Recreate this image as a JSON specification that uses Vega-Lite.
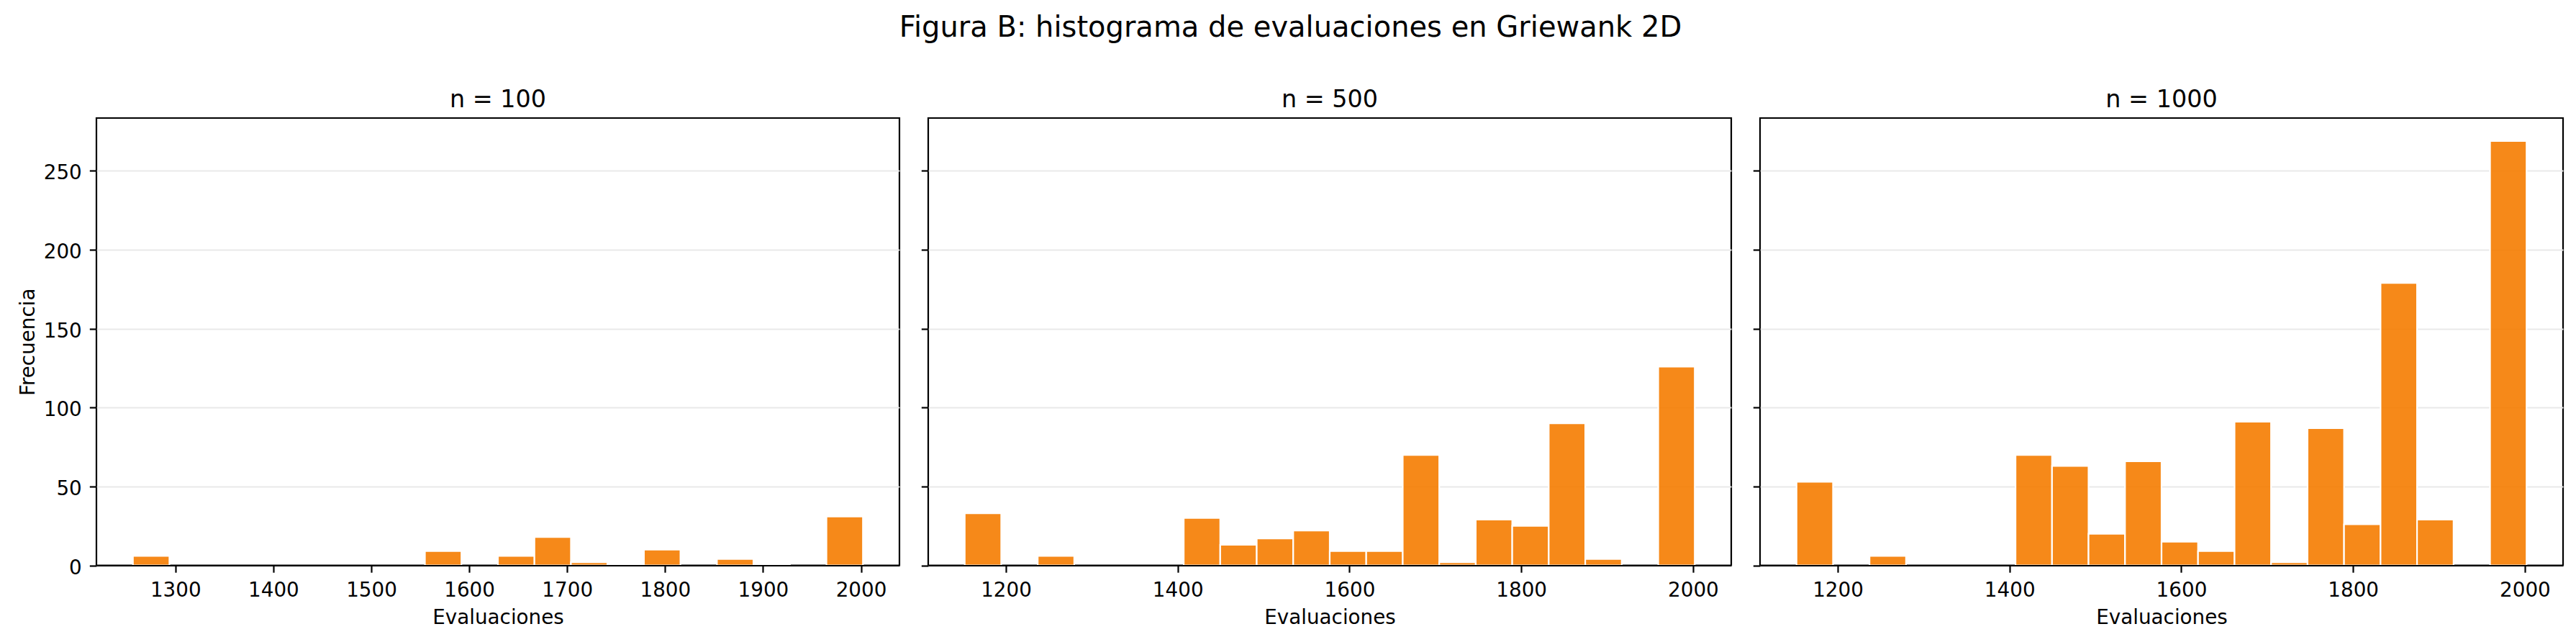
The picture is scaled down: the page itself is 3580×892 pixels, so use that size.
{
  "$schema": "https://vega.github.io/schema/vega-lite/v6.json",
  "background": "white",
  "padding": {"left": 23, "top": 19, "right": 19, "bottom": 20},
  "bounds": "flush",
  "spacing": 40,
  "title": {
    "text": "Figura B: histograma de evaluaciones en Griewank 2D",
    "font": "DejaVu Sans", "fontSize": 40, "fontWeight": "normal", "color": "black",
    "anchor": "middle", "offset": 62
  },
  "config": {
    "font": "DejaVu Sans",
    "view": {"stroke": "black", "strokeWidth": 2.2},
    "axis": {
      "labelFont": "DejaVu Sans", "titleFont": "DejaVu Sans",
      "labelFontSize": 27.8, "titleFontSize": 27.8,
      "labelColor": "black", "titleColor": "black", "titleFontWeight": "normal",
      "tickColor": "black", "tickWidth": 2.2, "tickSize": 9.7,
      "domainColor": "black", "domainWidth": 2.2,
      "gridColor": "#e9e9e9", "gridWidth": 2.2,
      "labelFlush": false, "labelOverlap": false, "format": "d"
    }
  },
  "datasets": {
    "p100": [
      {"bin_start": 1256.6, "bin_end": 1293.87, "count": 6},
      {"bin_start": 1554.76, "bin_end": 1592.03, "count": 9},
      {"bin_start": 1629.3, "bin_end": 1666.57, "count": 6},
      {"bin_start": 1666.57, "bin_end": 1703.84, "count": 18},
      {"bin_start": 1703.84, "bin_end": 1741.11, "count": 2},
      {"bin_start": 1741.11, "bin_end": 1778.38, "count": 1},
      {"bin_start": 1778.38, "bin_end": 1815.65, "count": 10},
      {"bin_start": 1852.92, "bin_end": 1890.19, "count": 4},
      {"bin_start": 1890.19, "bin_end": 1927.46, "count": 1},
      {"bin_start": 1964.73, "bin_end": 2002.0, "count": 31}
    ],
    "p500": [
      {"bin_start": 1152, "bin_end": 1194.5, "count": 33},
      {"bin_start": 1237, "bin_end": 1279.5, "count": 6},
      {"bin_start": 1407, "bin_end": 1449.5, "count": 30},
      {"bin_start": 1449.5, "bin_end": 1492, "count": 13},
      {"bin_start": 1492, "bin_end": 1534.5, "count": 17},
      {"bin_start": 1534.5, "bin_end": 1577, "count": 22},
      {"bin_start": 1577, "bin_end": 1619.5, "count": 9},
      {"bin_start": 1619.5, "bin_end": 1662, "count": 9},
      {"bin_start": 1662, "bin_end": 1704.5, "count": 70},
      {"bin_start": 1704.5, "bin_end": 1747, "count": 2},
      {"bin_start": 1747, "bin_end": 1789.5, "count": 29},
      {"bin_start": 1789.5, "bin_end": 1832, "count": 25},
      {"bin_start": 1832, "bin_end": 1874.5, "count": 90},
      {"bin_start": 1874.5, "bin_end": 1917, "count": 4},
      {"bin_start": 1959.5, "bin_end": 2002, "count": 126}
    ],
    "p1000": [
      {"bin_start": 1152, "bin_end": 1194.5, "count": 53},
      {"bin_start": 1237, "bin_end": 1279.5, "count": 6},
      {"bin_start": 1407, "bin_end": 1449.5, "count": 70},
      {"bin_start": 1449.5, "bin_end": 1492, "count": 63},
      {"bin_start": 1492, "bin_end": 1534.5, "count": 20},
      {"bin_start": 1534.5, "bin_end": 1577, "count": 66},
      {"bin_start": 1577, "bin_end": 1619.5, "count": 15},
      {"bin_start": 1619.5, "bin_end": 1662, "count": 9},
      {"bin_start": 1662, "bin_end": 1704.5, "count": 91},
      {"bin_start": 1704.5, "bin_end": 1747, "count": 2},
      {"bin_start": 1747, "bin_end": 1789.5, "count": 87},
      {"bin_start": 1789.5, "bin_end": 1832, "count": 26},
      {"bin_start": 1832, "bin_end": 1874.5, "count": 179},
      {"bin_start": 1874.5, "bin_end": 1917, "count": 29},
      {"bin_start": 1959.5, "bin_end": 2002, "count": 269}
    ]
  },
  "hconcat": [
    {
      "width": 1116, "height": 621.5,
      "data": {"name": "p100"},
      "title": {"text": "n = 100", "font": "DejaVu Sans", "fontSize": 33.4, "fontWeight": "normal", "color": "black", "anchor": "middle", "frame": "group", "offset": 7.5},
      "mark": {"type": "bar", "fill": "#F57C00", "fillOpacity": 0.9, "stroke": "white", "strokeWidth": 2.2},
      "encoding": {
        "x": {"field": "bin_start", "type": "quantitative",
              "scale": {"domain": [1219.33, 2039.27], "nice": false, "zero": false},
              "axis": {"title": "Evaluaciones", "values": [1300, 1400, 1500, 1600, 1700, 1800, 1900, 2000], "grid": false, "domain": true, "zindex": 1, "labelBaseline": "alphabetic", "labelPadding": 32.9, "titleBaseline": "alphabetic", "titlePadding": 33}},
        "x2": {"field": "bin_end"},
        "y": {"field": "count", "type": "quantitative",
              "scale": {"domain": [0, 283.5], "nice": false},
              "axis": {"title": "Frecuencia", "values": [0, 50, 100, 150, 200, 250], "grid": true, "domain": false, "labelBaseline": "alphabetic", "labelOffset": 11.5, "labelPadding": 11, "titleX": -87, "titleBaseline": "alphabetic"}},
        "y2": {"datum": 0}
      }
    },
    {
      "width": 1116, "height": 621.5,
      "data": {"name": "p500"},
      "title": {"text": "n = 500", "font": "DejaVu Sans", "fontSize": 33.4, "fontWeight": "normal", "color": "black", "anchor": "middle", "frame": "group", "offset": 7.5},
      "mark": {"type": "bar", "fill": "#F57C00", "fillOpacity": 0.9, "stroke": "white", "strokeWidth": 2.2},
      "encoding": {
        "x": {"field": "bin_start", "type": "quantitative",
              "scale": {"domain": [1109.5, 2044.5], "nice": false, "zero": false},
              "axis": {"title": "Evaluaciones", "values": [1200, 1400, 1600, 1800, 2000], "grid": false, "domain": true, "zindex": 1, "labelBaseline": "alphabetic", "labelPadding": 32.9, "titleBaseline": "alphabetic", "titlePadding": 33}},
        "x2": {"field": "bin_end"},
        "y": {"field": "count", "type": "quantitative",
              "scale": {"domain": [0, 283.5], "nice": false},
              "axis": {"title": null, "values": [0, 50, 100, 150, 200, 250], "grid": true, "domain": false, "labels": false}},
        "y2": {"datum": 0}
      }
    },
    {
      "width": 1116, "height": 621.5,
      "data": {"name": "p1000"},
      "title": {"text": "n = 1000", "font": "DejaVu Sans", "fontSize": 33.4, "fontWeight": "normal", "color": "black", "anchor": "middle", "frame": "group", "offset": 7.5},
      "mark": {"type": "bar", "fill": "#F57C00", "fillOpacity": 0.9, "stroke": "white", "strokeWidth": 2.2},
      "encoding": {
        "x": {"field": "bin_start", "type": "quantitative",
              "scale": {"domain": [1109.5, 2044.5], "nice": false, "zero": false},
              "axis": {"title": "Evaluaciones", "values": [1200, 1400, 1600, 1800, 2000], "grid": false, "domain": true, "zindex": 1, "labelBaseline": "alphabetic", "labelPadding": 32.9, "titleBaseline": "alphabetic", "titlePadding": 33}},
        "x2": {"field": "bin_end"},
        "y": {"field": "count", "type": "quantitative",
              "scale": {"domain": [0, 283.5], "nice": false},
              "axis": {"title": null, "values": [0, 50, 100, 150, 200, 250], "grid": true, "domain": false, "labels": false}},
        "y2": {"datum": 0}
      }
    }
  ]
}
